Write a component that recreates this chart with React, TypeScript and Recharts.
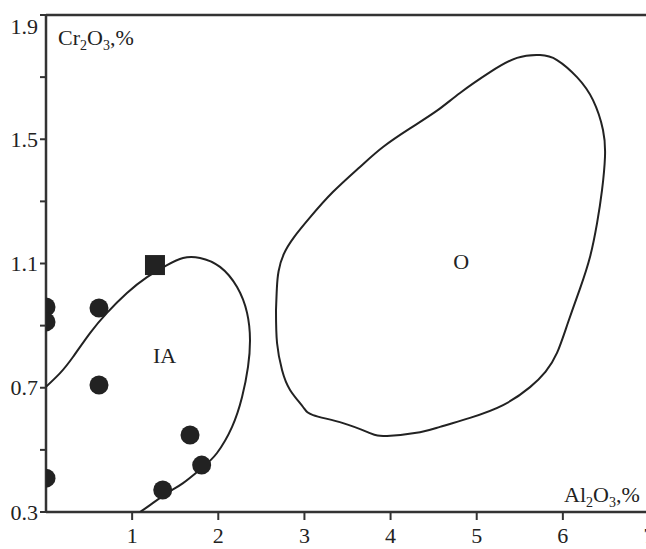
import React from 'react';
import {
  ScatterChart,
  Scatter,
  XAxis,
  YAxis,
  ReferenceLine,
  Customized,
} from 'recharts';

// ---- data ----
const X_TICKS = [1, 2, 3, 4, 5, 6, 7];
const Y_TICKS = [0.3, 0.5, 0.7, 0.9, 1.1, 1.3, 1.5, 1.7, 1.9];
const Y_LABELED = ['0.3', '0.7', '1.1', '1.5', '1.9'];

const CIRCLE_POINTS = [
  { x: 0.0, y: 0.96 },
  { x: 0.0, y: 0.912 },
  { x: 0.615, y: 0.957 },
  { x: 0.615, y: 0.709 },
  { x: 0.0, y: 0.409 },
  { x: 1.355, y: 0.371 },
  { x: 1.807, y: 0.451 },
  { x: 1.672, y: 0.548 },
];

const SQUARE_POINTS = [{ x: 1.265, y: 1.095 }];

const IA_BOUNDARY = [
  { x: 0.0, y: 0.703 },
  { x: 0.163, y: 0.747 },
  { x: 0.313, y: 0.799 },
  { x: 0.511, y: 0.876 },
  { x: 0.708, y: 0.941 },
  { x: 0.94, y: 1.005 },
  { x: 1.173, y: 1.056 },
  { x: 1.405, y: 1.095 },
  { x: 1.591, y: 1.118 },
  { x: 1.788, y: 1.118 },
  { x: 2.02, y: 1.089 },
  { x: 2.218, y: 1.024 },
  { x: 2.334, y: 0.941 },
  { x: 2.368, y: 0.854 },
  { x: 2.345, y: 0.767 },
  { x: 2.276, y: 0.67 },
  { x: 2.16, y: 0.574 },
  { x: 1.985, y: 0.49 },
  { x: 1.811, y: 0.442 },
  { x: 1.591, y: 0.393 },
  { x: 1.405, y: 0.361 },
  { x: 1.207, y: 0.322 },
  { x: 1.091, y: 0.3 },
];

const O_BOUNDARY = [
  { x: 2.67, y: 0.95 },
  { x: 2.68, y: 1.02 },
  { x: 2.7, y: 1.075 },
  { x: 2.76, y: 1.13 },
  { x: 2.88, y: 1.185 },
  { x: 3.07, y: 1.25 },
  { x: 3.33, y: 1.33 },
  { x: 3.645, y: 1.411 },
  { x: 3.912, y: 1.475 },
  { x: 4.226, y: 1.535 },
  { x: 4.539, y: 1.592 },
  { x: 4.806, y: 1.649 },
  { x: 5.155, y: 1.716 },
  { x: 5.468, y: 1.762 },
  { x: 5.735, y: 1.771 },
  { x: 5.932, y: 1.755 },
  { x: 6.164, y: 1.7 },
  { x: 6.35, y: 1.626 },
  { x: 6.466, y: 1.53 },
  { x: 6.489, y: 1.443 },
  { x: 6.455, y: 1.337 },
  { x: 6.397, y: 1.23 },
  { x: 6.315, y: 1.121 },
  { x: 6.2, y: 1.02 },
  { x: 6.06, y: 0.91 },
  { x: 5.932, y: 0.812 },
  { x: 5.8, y: 0.752 },
  { x: 5.619, y: 0.702 },
  { x: 5.306, y: 0.644 },
  { x: 4.922, y: 0.603 },
  { x: 4.574, y: 0.574 },
  { x: 4.342, y: 0.557 },
  { x: 3.959, y: 0.545 },
  { x: 3.761, y: 0.554 },
  { x: 3.448, y: 0.586 },
  { x: 3.1, y: 0.612 },
  { x: 2.984, y: 0.638 },
  { x: 2.833, y: 0.693 },
  { x: 2.74, y: 0.757 },
  { x: 2.682, y: 0.844 },
  { x: 2.67, y: 0.95 },
];

const FIELD_LABELS = [
  { x: 1.376, y: 0.805, label: 'IA' },
  { x: 4.82, y: 1.108, label: 'O' },
];

// ---- styles ----
const INK = '#222';
const AXIS = '#333';
const FONT = '"Liberation Serif", "Times New Roman", serif';

const noShape = () => <g />;

const CircleShape = (p: any) => <circle cx={p.cx} cy={p.cy} r={9.5} fill={INK} />;
const SquareShape = (p: any) => (
  <rect x={p.cx - 10} y={p.cy - 10} width={20} height={20} fill={INK} />
);
const LabelShape = (p: any) => (
  <text
    x={p.cx}
    y={p.cy}
    textAnchor="middle"
    dominantBaseline="central"
    fontFamily={FONT}
    fontSize={22}
    fill={INK}
  >
    {p.payload.label}
  </text>
);

const YTick = (p: any) => {
  const v = Number(p.payload.value);
  const s = v.toFixed(1);
  if (!Y_LABELED.includes(s)) return <g />;
  const dy = s === '1.9' ? 11 : 0;
  return (
    <text
      x={p.x}
      y={p.y + dy}
      textAnchor="end"
      dominantBaseline="central"
      fontFamily={FONT}
      fontSize={22}
      fill={INK}
    >
      {s}
    </text>
  );
};

const XTick = (p: any) => (
  <text
    x={p.x}
    y={p.y + 13}
    textAnchor="middle"
    fontFamily={FONT}
    fontSize={22}
    fill={INK}
  >
    {p.payload.value}
  </text>
);

const AxisTitles = () => (
  <g fontFamily={FONT} fill={INK}>
    <text x={58} y={45} fontSize={22}>
      Cr
      <tspan fontSize={14} dy={5}>2</tspan>
      <tspan dy={-5}>O</tspan>
      <tspan fontSize={14} dy={5}>3</tspan>
      <tspan dy={-5}>,%</tspan>
    </text>
    <text x={564} y={502} fontSize={22}>
      Al
      <tspan fontSize={14} dy={5}>2</tspan>
      <tspan dy={-5}>O</tspan>
      <tspan fontSize={14} dy={5}>3</tspan>
      <tspan dy={-5}>,%</tspan>
    </text>
  </g>
);

export default function App() {
  return (
    <div
      style={{
        position: 'absolute',
        left: 0,
        top: 0,
        width: 646,
        height: 549,
        overflow: 'hidden',
        background: '#fff',
      }}
    >
      <ScatterChart
        width={680}
        height={549}
        margin={{ top: 15, right: 31, bottom: 0, left: 6 }}
      >
        <XAxis
          type="number"
          dataKey="x"
          domain={[0, 7]}
          ticks={X_TICKS}
          allowDataOverflow
          height={37}
          tickSize={8}
          tickMargin={10}
          tick={<XTick />}
          axisLine={{ stroke: AXIS, strokeWidth: 2.5 }}
          tickLine={{ stroke: AXIS, strokeWidth: 2 }}
        />
        <YAxis
          type="number"
          dataKey="y"
          domain={[0.3, 1.9]}
          ticks={Y_TICKS}
          allowDataOverflow
          width={40}
          tickSize={6}
          tickMargin={2}
          tick={<YTick />}
          axisLine={{ stroke: AXIS, strokeWidth: 2.5 }}
          tickLine={{ stroke: AXIS, strokeWidth: 2 }}
        />
        <ReferenceLine y={1.9} stroke={AXIS} strokeWidth={2.5} ifOverflow="visible" />
        <Scatter
          data={IA_BOUNDARY}
          line={{ stroke: INK, strokeWidth: 2 }}
          lineJointType="natural"
          shape={noShape}
          isAnimationActive={false}
        />
        <Scatter
          data={O_BOUNDARY}
          line={{ stroke: INK, strokeWidth: 2 }}
          lineJointType="natural"
          shape={noShape}
          isAnimationActive={false}
        />
        <Scatter data={CIRCLE_POINTS} shape={CircleShape} isAnimationActive={false} />
        <Scatter data={SQUARE_POINTS} shape={SquareShape} isAnimationActive={false} />
        <Scatter data={FIELD_LABELS} shape={LabelShape} isAnimationActive={false} />
        <Customized component={AxisTitles} />
      </ScatterChart>
    </div>
  );
}
